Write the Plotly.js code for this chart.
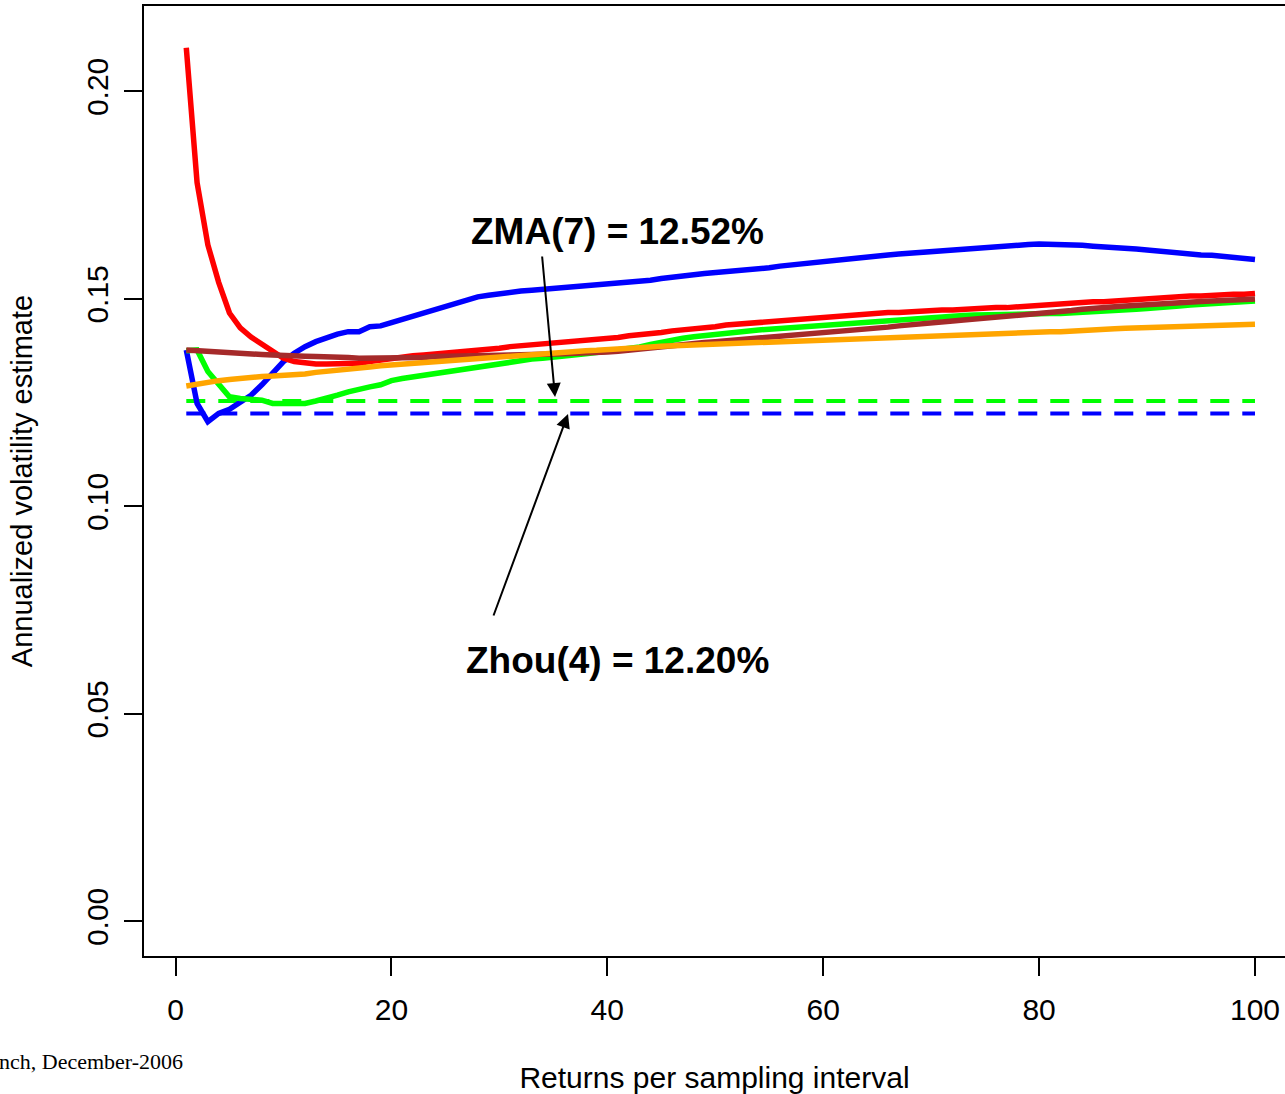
<!DOCTYPE html>
<html>
<head>
<meta charset="utf-8">
<script src="https://cdn.plot.ly/plotly-3.0.1.min.js"></script>
<style>html,body{margin:0;padding:0;background:#fff;overflow:hidden}</style>
</head>
<body>
<div id="chart" style="width:1285px;height:1094px"></div>
<script>
// Returns per sampling interval (1..100)
const samplingInterval = Array.from({length: 100}, (_, i) => i + 1);

const blueSeries = [
0.1377,0.1248,0.1204,0.1224,0.1234,0.1250,0.1268,0.1293,0.1321,0.1349,
0.1369,0.1385,0.1397,0.1407,0.1415,0.1421,0.1421,0.1433,0.1435,0.1443,
0.1451,0.1459,0.1467,0.1475,0.1483,0.1491,0.1499,0.1505,0.1509,0.1513,
0.1517,0.1519,0.1521,0.1523,0.1525,0.1529,0.1531,0.1533,0.1535,0.1535,
0.1537,0.1539,0.1543,0.1545,0.1549,0.1553,0.1555,0.1558,0.1561,0.1563,
0.1565,0.1567,0.1569,0.1571,0.1575,0.1579,0.1582,0.1585,0.1588,0.1591,
0.1593,0.1595,0.1597,0.1600,0.1604,0.1606,0.1608,0.1610,0.1613,0.1616,
0.1618,0.1620,0.1622,0.1623,0.1625,0.1626,0.1628,0.1630,0.1631,0.1632,
0.1632,0.1632,0.1631,0.1629,0.1627,0.1626,0.1624,0.1622,0.1620,0.1618,
0.1615,0.1613,0.1611,0.1608,0.1606,0.1605,0.1603,0.1601,0.1599,0.1595];

const redSeries = [
0.2105,0.1780,0.1630,0.1540,0.1466,0.1430,0.1408,0.1390,0.1373,0.1357,
0.1349,0.1345,0.1343,0.1343,0.1343,0.1343,0.1345,0.1349,0.1353,0.1357,
0.1361,0.1363,0.1365,0.1367,0.1369,0.1373,0.1375,0.1377,0.1379,0.1381,
0.1385,0.1387,0.1389,0.1391,0.1393,0.1397,0.1399,0.1401,0.1403,0.1405,
0.1407,0.1411,0.1413,0.1417,0.1419,0.1423,0.1425,0.1427,0.1431,0.1433,
0.1437,0.1439,0.1443,0.1445,0.1447,0.1449,0.1451,0.1453,0.1455,0.1457,
0.1459,0.1461,0.1463,0.1463,0.1465,0.1467,0.1467,0.1469,0.1471,0.1471,
0.1473,0.1473,0.1475,0.1477,0.1477,0.1479,0.1479,0.1481,0.1481,0.1483,
0.1485,0.1487,0.1489,0.1491,0.1493,0.1493,0.1495,0.1497,0.1499,0.1501,
0.1503,0.1503,0.1505,0.1507,0.1507,0.1509,0.1509,0.1511,0.1511,0.1513];

const greenSeries = [
0.1375,0.1377,0.1325,0.1293,0.1264,0.1260,0.1258,0.1256,0.1248,0.1248,
0.1246,0.1248,0.1254,0.1260,0.1268,0.1276,0.1283,0.1288,0.1293,0.1303,
0.1308,0.1312,0.1317,0.1322,0.1326,0.1330,0.1334,0.1338,0.1342,0.1345,
0.1348,0.1352,0.1355,0.1357,0.1359,0.1361,0.1364,0.1368,0.1371,0.1374,
0.1377,0.1380,0.1384,0.1390,0.1396,0.1400,0.1405,0.1409,0.1412,0.1416,
0.1419,0.1421,0.1423,0.1425,0.1427,0.1429,0.1431,0.1433,0.1435,0.1436,
0.1438,0.1440,0.1442,0.1443,0.1445,0.1447,0.1449,0.1452,0.1454,0.1456,
0.1458,0.1459,0.1460,0.1461,0.1462,0.1463,0.1464,0.1464,0.1465,0.1465,
0.1465,0.1465,0.1466,0.1467,0.1469,0.1470,0.1472,0.1473,0.1475,0.1477,
0.1480,0.1482,0.1483,0.1485,0.1487,0.1488,0.1489,0.1491,0.1493,0.1495];

const brownSeries = [
0.1377,0.1375,0.1373,0.1373,0.1370,0.1369,0.1368,0.1366,0.1365,0.1365,
0.1365,0.1362,0.1361,0.1361,0.1361,0.1359,0.1357,0.1357,0.1356,0.1356,
0.1357,0.1357,0.1359,0.1361,0.1361,0.1362,0.1363,0.1363,0.1364,0.1364,
0.1365,0.1365,0.1366,0.1367,0.1367,0.1368,0.1369,0.1369,0.1370,0.1372,
0.1374,0.1377,0.1379,0.1382,0.1385,0.1388,0.1391,0.1393,0.1395,0.1397,
0.1399,0.1401,0.1404,0.1406,0.1408,0.1409,0.1411,0.1414,0.1417,0.1420,
0.1422,0.1424,0.1426,0.1427,0.1429,0.1432,0.1435,0.1438,0.1440,0.1443,
0.1445,0.1447,0.1449,0.1451,0.1453,0.1455,0.1457,0.1459,0.1462,0.1465,
0.1467,0.1470,0.1472,0.1475,0.1478,0.1480,0.1481,0.1483,0.1485,0.1487,
0.1489,0.1490,0.1491,0.1493,0.1494,0.1495,0.1497,0.1498,0.1499,0.1500];

const orangeSeries = [
0.1290,0.1295,0.1299,0.1303,0.1306,0.1309,0.1309,0.1313,0.1314,0.1315,
0.1317,0.1319,0.1323,0.1325,0.1328,0.1330,0.1334,0.1336,0.1339,0.1341,
0.1343,0.1345,0.1347,0.1349,0.1350,0.1353,0.1356,0.1358,0.1360,0.1361,
0.1363,0.1365,0.1366,0.1368,0.1370,0.1372,0.1374,0.1375,0.1376,0.1377,
0.1379,0.1380,0.1381,0.1384,0.1386,0.1387,0.1389,0.1391,0.1391,0.1392,
0.1393,0.1394,0.1396,0.1397,0.1398,0.1398,0.1399,0.1401,0.1402,0.1403,
0.1404,0.1404,0.1405,0.1405,0.1408,0.1409,0.1409,0.1409,0.1410,0.1412,
0.1413,0.1413,0.1414,0.1415,0.1415,0.1417,0.1418,0.1419,0.1420,0.1421,
0.1421,0.1421,0.1423,0.1425,0.1427,0.1427,0.1428,0.1429,0.1430,0.1432,
0.1433,0.1433,0.1433,0.1433,0.1435,0.1437,0.1437,0.1438,0.1439,0.1439];

// Reference estimates (dashed lines)
const zmaLevel = 0.1254;   // ZMA(7) = 12.52%
const zhouLevel = 0.1224;  // Zhou(4) = 12.20%

const xTickVals = [0, 20, 40, 60, 80, 100];
const yTickVals = [0, 0.05, 0.10, 0.15, 0.20];
const yTickText = ["0.00", "0.05", "0.10", "0.15", "0.20"];

const zmaLabel = "ZMA(7) = 12.52%";
const zhouLabel = "Zhou(4) = 12.20%";
const xTitle = "Returns per sampling interval";
const yTitle = "Annualized volatility estimate";
const footnote = "nch, December-2006";

const solidW = 5.5;
const flat = v => samplingInterval.map(() => v);

const traces = [
  {x: samplingInterval, y: flat(zmaLevel), mode: 'lines', line: {color: '#00FF00', width: 4, dash: '19px,13px'}, name: 'ZMA level'},
  {x: samplingInterval, y: flat(zhouLevel), mode: 'lines', line: {color: '#0000FF', width: 4, dash: '19px,13px'}, name: 'Zhou level'},
  {x: samplingInterval, y: blueSeries, mode: 'lines', line: {color: '#0000FF', width: solidW}, name: 'blue'},
  {x: samplingInterval, y: redSeries, mode: 'lines', line: {color: '#FF0000', width: solidW}, name: 'red'},
  {x: samplingInterval, y: greenSeries, mode: 'lines', line: {color: '#00FF00', width: solidW}, name: 'green'},
  {x: samplingInterval, y: brownSeries, mode: 'lines', line: {color: '#A52A2A', width: solidW}, name: 'brown'},
  {x: samplingInterval, y: orangeSeries, mode: 'lines', line: {color: '#FFA500', width: solidW}, name: 'orange'}
];

const axisFont = {family: 'Liberation Sans, Arial, sans-serif', size: 30, color: '#000'};

const layout = {
  width: 1285, height: 1094,
  margin: {l: 144, r: 0, t: 6, b: 138},
  paper_bgcolor: '#fff', plot_bgcolor: '#fff',
  showlegend: false,
  xaxis: {
    range: [-2.918, 102.78],
    tickvals: xTickVals,
    ticks: 'outside', ticklen: 18, tickwidth: 2, tickcolor: '#000',
    showline: true, linewidth: 2, linecolor: '#000', mirror: true,
    showgrid: false, zeroline: false,
    tickfont: axisFont,
    ticklabelstandoff: 8,
    title: {text: xTitle, font: {family: 'Liberation Sans, Arial, sans-serif', size: 30, color: '#000'}, standoff: 43}
  },
  yaxis: {
    range: [-0.00834, 0.22058],
    tickvals: yTickVals, ticktext: yTickText,
    tickangle: -90,
    ticks: 'outside', ticklen: 18, tickwidth: 2, tickcolor: '#000',
    showline: true, linewidth: 2, linecolor: '#000', mirror: false,
    showgrid: false, zeroline: false,
    tickfont: axisFont,
    ticklabelstandoff: 4,
    title: {text: yTitle, font: {family: 'Liberation Sans, Arial, sans-serif', size: 29, color: '#000'}, standoff: 40}
  },
  annotations: [
    {x: 35.16, y: 0.12636, ax: 33.95, ay: 0.16058, xref: 'x', yref: 'y', axref: 'x', ayref: 'y',
     text: '', showarrow: true, arrowhead: 2, arrowsize: 1.4, arrowwidth: 2, arrowcolor: '#000', standoff: 0},
    {x: 36.36, y: 0.12227, ax: 29.41, ay: 0.07335, xref: 'x', yref: 'y', axref: 'x', ayref: 'y',
     text: '', showarrow: true, arrowhead: 2, arrowsize: 1.4, arrowwidth: 2, arrowcolor: '#000', standoff: 0},
    {x: 40.9, y: 0.16636, xref: 'x', yref: 'y', text: '<b>' + zmaLabel + '</b>', showarrow: false,
     font: {family: 'Liberation Sans, Arial, sans-serif', size: 37, color: '#000'}, xanchor: 'center', yanchor: 'middle'},
    {x: 40.9, y: 0.06275, xref: 'x', yref: 'y', text: '<b>' + zhouLabel + '</b>', showarrow: false,
     font: {family: 'Liberation Sans, Arial, sans-serif', size: 37, color: '#000'}, xanchor: 'center', yanchor: 'middle'},
    {x: -144/1141, y: -(1061-956)/950, xref: 'paper', yref: 'paper', text: footnote, showarrow: false,
     font: {family: 'Liberation Serif, Times New Roman, serif', size: 22, color: '#000'}, xanchor: 'left', yanchor: 'middle', xshift: -3}
  ]
};

Plotly.newPlot('chart', traces, layout, {displayModeBar: false, staticPlot: true});
</script>
</body>
</html>
